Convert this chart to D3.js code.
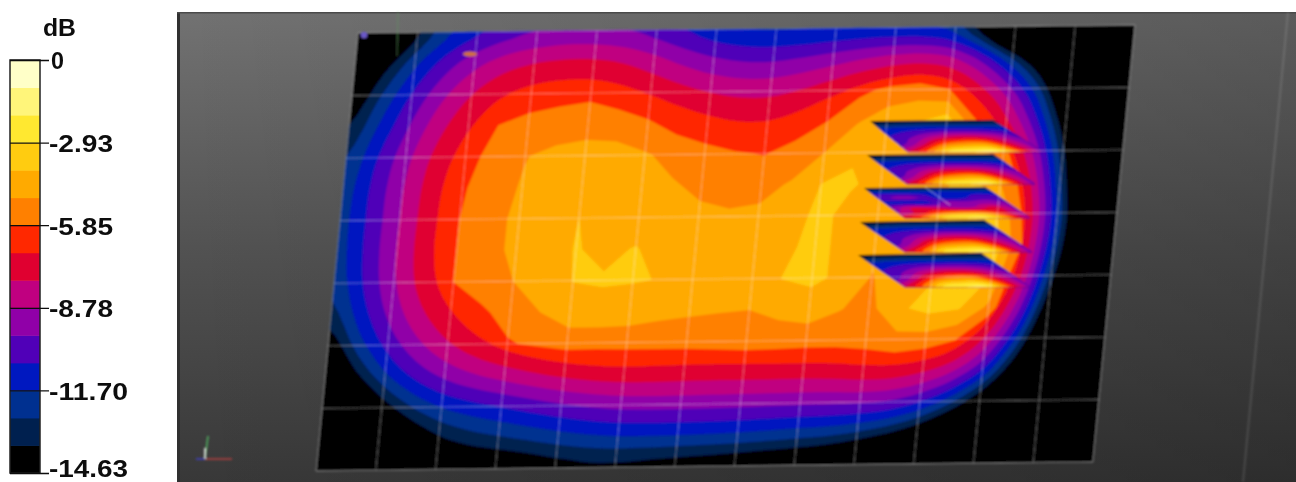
<!DOCTYPE html>
<html><head><meta charset="utf-8">
<script src="https://cdn.jsdelivr.net/npm/d3@7"></script>
<style>html,body{margin:0;padding:0;background:#fff;overflow:hidden}svg{display:block}</style>
</head><body><svg id="chart" width="1296" height="482"></svg>
<script>
// Legend
const legendTitle = "dB";
const legendTicks = [0, -2.93, -5.85, -8.78, -11.70, -14.63];
const legendLabels = ["0", "-2.93", "-5.85", "-8.78", "-11.70", "-14.63"];
const bandColors = ["#000000","#00204f","#003090","#0018c0","#5000b8","#9000a8","#c00080","#e00030",
                    "#ff2800","#ff8000","#ffaa00","#ffcc10","#ffe830","#fff57a","#ffffc8"];
const dbMin = -14.63, dbMax = 0;
// Field, in legend bands above -14.63 dB (one band = 14.63/15 dB),
// sampled every half mesh cell: 27 columns x 15 rows.
const field = [
[-6,-2.5,1.3,2.9,3.9,4.6,5.1,5.3,5.3,5.1,4.7,4,3.3,3,2.9,3,3.1,3.2,3.3,3.2,2.9,0.9,-5,-9,-9,-9,-9],
[-1.5,0.9,3.2,4.4,5.9,6.7,7.2,7.35,7.4,7.2,6.4,5.6,5,4.7,4.7,5.1,5.5,6,6.6,6.9,6.8,5.6,3.5,0.6,-4,-9,-9],
[-0.3,2.3,4.1,6.1,7.1,8.2,8.5,8.7,8.8,8.4,8.05,7.6,7.2,7,6.9,7.3,7.9,8.7,9.3,9.5,9,7.3,5.3,2.6,-3,-9,-9],
[1.2,3,4.9,6.8,7.8,9,9.3,9.4,9.5,9.5,9.15,8.6,8.2,8,7.9,8.4,9,9.9,10.6,10.9,11.5,9,7.6,4.7,0.6,-4,-9],
[2.2,4.2,5.8,7.6,8.6,9.4,9.95,10.3,10.5,10.4,10.1,9.7,9.4,9.1,8.95,9.4,10,10.9,10.8,10.9,10.9,10.5,9.5,6.3,0.8,-4,-9],
[2.5,4.2,5.9,7.8,8.9,9.5,10.1,10.4,10.6,10.6,10.4,10.1,9.8,9.7,9.7,10.1,11.01,11.1,10.7,10.7,10.8,11.5,10,8.2,2.7,-4.5,-9],
[2.7,4.2,6,7.8,9,9.7,10.2,10.4,11,10.6,10.5,10.4,10.2,10.1,10.2,10.4,11.3,10.7,10.6,10.7,10.8,11.5,11,8.5,3.2,-2.3,-9],
[2.5,4.2,6.1,7.8,9,9.7,10.2,10.6,11.05,10.8,11.05,10.6,10.4,10.4,10.5,10.8,11.3,10.7,10.2,10.3,10.7,11.3,11.5,8.8,3,-3,-9],
[2.5,4.1,6.1,7.7,9,9.5,10,10.5,11.02,11.08,11.05,10.97,10.5,10.6,10.6,11.02,11.2,10.8,9.95,10.5,10.9,11.5,11,7.5,1.6,-5,-9],
[1.8,3.5,5.5,6.9,8,8.8,9.4,10,10.6,10.7,10.6,10.3,10.15,10.05,10,10.25,10.5,10.05,9.7,10.85,11.3,11.1,9.8,6.6,0.4,-6,-9],
[0.3,3,4.4,6.1,7,7.9,8.9,9.2,9.4,9.3,9.3,9.35,9.4,9.5,9.6,9.5,9.4,9.4,9.45,9.7,9.6,9.1,7,3.6,-3,-8,-9],
[-2,1.1,3,4.4,5.6,6.2,6.5,7,7.5,7.8,7.9,7.75,7.6,7.5,7.5,7.6,7.6,7.6,7.9,8,7.6,6.9,5.2,1,-5,-9,-9],
[-6,-2,1.1,2.2,3,3.4,3.8,4.3,4.7,5,5.3,5.35,5.4,5.4,5.3,5.3,5.2,5.2,5.3,5,4.4,2.4,0.9,-5,-9,-9,-9],
[-9,-7,-3,-0.5,1.1,1.6,2,2.3,2.6,2.8,3,3,3,3,2.9,2.8,2.5,2.5,2.2,1.5,1,-2,-6,-9,-9,-9,-9],
[-9,-9,-6,-3,-1,-0.5,-0.3,0,0.5,0.8,0.8,0.6,0.4,0.2,0,-0.3,-0.6,-1,-2,-4,-6,-9,-9,-9,-9,-9,-9]
];
// Sound-field slices floating above the plane
const sliceField = [
[0.4,0.6,0.8,0.8,0.8,0.8,1],
[3,3.3,3.5,3.6,3.6,3.5,3.2],
[4,4.8,6,6.8,6.8,6,4.6],
[4.5,6.5,9,10,10,7.5,5.5],
[7,9.5,12.5,13,13,9,5.5]
];
const sliceFieldDouble = [
[0.4,0.6,0.8,0.8,0.8,0.8,1],
[3.2,3.4,3.4,3.4,3.4,3.4,3.2],
[4.6,5.2,5,3.6,3.6,4.6,4.4],
[3.6,3.6,3.6,5.4,5.4,5.6,5],
[5.2,7,7,6.2,6.2,7.4,5.6],
[6,7.4,9,10,10,8,5.8],
[7.6,9.6,12.5,13,13,10,6]
];
const meshCols = 13, meshRows = 7;
const smoothBelow = 8.5;   // outer bands are rounded in the picture, inner ones are polygonal

const svg = d3.select("#chart");
const defs = svg.append("defs");
const bgV = defs.append("linearGradient").attr("id","bgV").attr("x1",0).attr("x2",0).attr("y1",0).attr("y2",1);
[[0,"#727272"],[0.5,"#525252"],[1,"#383838"]].forEach(s=>bgV.append("stop").attr("offset",s[0]).attr("stop-color",s[1]));
const bgH = defs.append("linearGradient").attr("id","bgH");
[[0,0],[1,0.2]].forEach(s=>bgH.append("stop").attr("offset",s[0]).attr("stop-color","#000").attr("stop-opacity",s[1]));
defs.append("filter").attr("id","soft").attr("filterUnits","userSpaceOnUse")
  .attr("x",0).attr("y",0).attr("width",1296).attr("height",482)
  .append("feGaussianBlur").attr("stdDeviation",0.8);
defs.append("filter").attr("id","softText").attr("filterUnits","userSpaceOnUse")
  .attr("x",0).attr("y",0).attr("width",180).attr("height",482)
  .append("feGaussianBlur").attr("stdDeviation",0.4);

// ---------- panel ----------
svg.append("rect").attr("x",177).attr("y",12).attr("width",1119).attr("height",470).attr("fill","url(#bgV)");
svg.append("rect").attr("x",177).attr("y",12).attr("width",1119).attr("height",470).attr("fill","url(#bgH)");
svg.append("rect").attr("x",177).attr("y",12).attr("width",3).attr("height",470).attr("fill","#303030");
svg.append("rect").attr("x",177).attr("y",12).attr("width",1119).attr("height",1.5).attr("fill","#4a4a4a");

const scene = svg.append("g").attr("filter","url(#soft)");

// ---------- projection of a unit square on to a quadrilateral ----------
function quad(c){
  const lerp = d3.interpolateNumber;
  return (s,t)=>{
    const xa = lerp(c[0][0],c[1][0])(s), xb = lerp(c[3][0],c[2][0])(s);
    const ya = lerp(c[0][1],c[1][1])(s), yb = lerp(c[3][1],c[2][1])(s);
    return [lerp(xa,xb)(t), lerp(ya,yb)(t)];
  };
}
const planeCorners = [[358,33],[1135,25],[1093,462],[316,471]];
const plane = quad(planeCorners);
const line = d3.line();

// ---------- display resampling so outer contours render round ----------
function cr(a,b,c,d,t){return 0.5*((2*b)+(c-a)*t+(2*a-5*b+4*c-d)*t*t+(3*b-a-3*c+d)*t*t*t);}
function refine1(arr,f){
  const out=[],n=arr.length;
  for(let i=0;i<n-1;i++){
    for(let k=0;k<f;k++) out.push(cr(arr[Math.max(i-1,0)],arr[i],arr[i+1],arr[Math.min(i+2,n-1)],k/f));
  }
  out.push(arr[n-1]); return out;
}
function soften1(arr){
  const n=arr.length;
  return arr.map((v,i)=>(i===0||i===n-1)?v:(arr[i-1]+2*v+arr[i+1])/4);
}
function refine(rows,f,soften){
  let h=rows.map(r=>refine1(soften?soften1(r):r,f));
  const cols=d3.transpose(h).map(c=>refine1(soften?soften1(c):c,f));
  return d3.transpose(cols);
}

// ---------- filled contour drawing ----------
function drawField(parent, rows, project, limit, soften){
  const thresholds = d3.range(1,bandColors.length);
  const draw = (grid,levels)=>{
    const ny=grid.length,nx=grid[0].length;
    const sx = d3.scaleLinear().domain([0.5,nx-0.5]).range([0,1]).clamp(true);
    const sy = d3.scaleLinear().domain([0.5,ny-0.5]).range([0,1]).clamp(true);
    const path = d3.geoPath(d3.geoTransform({point(x,y){
      const p = project(sx(x),sy(y)); this.stream.point(p[0],p[1]);
    }}));
    const contours = d3.contours().size([nx,ny]).smooth(true).thresholds(levels)(grid.flat());
    parent.append("g").selectAll("path").data(contours).join("path")
      .attr("d",path).attr("fill",d=>bandColors[d.value]).attr("stroke",d=>bandColors[d.value]).attr("stroke-width",0.3);
  };
  const low = thresholds.filter(t=>t<limit), high = thresholds.filter(t=>t>=limit);
  if(low.length) draw(refine(rows,4,soften),low);
  if(high.length) draw(rows,high);
}

// plane
scene.append("path").attr("d",line(planeCorners)+"Z").attr("fill",bandColors[0]);
drawField(scene.append("g"), field, plane, smoothBelow, true);

// slices
const sliceCorners = [
 [[870,121],[993,120],[1043,152],[908,152]],
 [[867,155],[993,154],[1035,184],[907,184]],
 [[864,188],[985,187],[1030,218],[905,218]],
 [[860,222],[984,220],[1032,252],[905,252]],
 [[858,255],[981,253],[1030,287],[905,287]]
];
sliceCorners.forEach((c,i)=>{
  scene.append("path").attr("d",line([c[0],c[1],[c[1][0]+12,c[1][1]+8],[c[0][0]+12,c[0][1]+8]])+"Z").attr("fill",bandColors[0]);
  drawField(scene.append("g"), i===2?sliceFieldDouble:sliceField, quad(c), 99, false);
});

// mesh lines
const gridG = scene.append("g").attr("fill","none").attr("stroke","#fff").attr("stroke-opacity",0.34).attr("stroke-width",1);
d3.range(0,meshCols+1).forEach(k=>{
  const s=k/meshCols; gridG.append("path").attr("d",line([plane(s,0),plane(s,1)]));
});
d3.range(0,meshRows+1).forEach(k=>{
  const t=k/meshRows; gridG.append("path").attr("d",line([plane(0,t),plane(1,t)]));
});
scene.append("path").attr("d",line([[925,187],[950,205]])).attr("stroke","#fff").attr("stroke-opacity",0.5).attr("fill","none");

// small markers
scene.append("circle").attr("cx",364).attr("cy",35).attr("r",3.2).attr("fill","#6a58c8");
scene.append("ellipse").attr("cx",470).attr("cy",54).attr("rx",7).attr("ry",2.5).attr("fill","#d07040");
scene.append("path").attr("d",line([[398,12],[397,56]])).attr("stroke","#5f9a5f").attr("stroke-opacity",0.6).attr("fill","none");
scene.append("path").attr("d",line([[1288,12],[1243,482]])).attr("stroke","#fff").attr("stroke-opacity",0.12).attr("stroke-width",2).attr("fill","none");
// orientation triad
const triad = scene.append("g").attr("fill","none").attr("stroke-width",1.6);
triad.append("path").attr("d",line([[205,459],[232,459]])).attr("stroke","#b04040");
triad.append("path").attr("d",line([[205,459],[208,436]])).attr("stroke","#50b060");
triad.append("path").attr("d",line([[205,459],[205,448]])).attr("stroke","#f0f0f0");
triad.append("path").attr("d",line([[196,459],[205,459]])).attr("stroke","#4040c0");

// ---------- legend ----------
const legendY = d3.scaleLinear().domain([dbMax,dbMin]).range([60,473]);
const bandStep = (dbMax-dbMin)/bandColors.length;
const legend = svg.append("g");
legend.selectAll("rect.band").data(bandColors).join("rect").attr("class","band")
  .attr("x",10).attr("width",30)
  .attr("y",(d,i)=>legendY(dbMin+(i+1)*bandStep))
  .attr("height",(d,i)=>legendY(dbMin+i*bandStep)-legendY(dbMin+(i+1)*bandStep)+0.5)
  .attr("fill",d=>d);
legend.append("rect").attr("x",10).attr("y",60).attr("width",30).attr("height",413)
  .attr("fill","none").attr("stroke","#222").attr("stroke-width",1.5);
const axis = d3.axisRight(legendY).tickValues(legendTicks).tickSize(39).tickPadding(0)
  .tickFormat((d,i)=>legendLabels[i]);
const ag = legend.append("g").attr("transform","translate(10,0)").attr("filter","url(#softText)").call(axis);
ag.attr("fill",null).attr("font-size",null).attr("font-family",null);
ag.select(".domain").remove();
ag.selectAll(".tick line").attr("stroke","#111").attr("stroke-width",1.3);
ag.selectAll(".tick text")
  .attr("font-family","'Liberation Sans',Arial,sans-serif").attr("font-weight","bold").attr("font-size",24)
  .attr("fill","#111")
  .attr("dy",(d,i)=>[8,9,9,9,9,3.5][i])
  .attr("lengthAdjust","spacingAndGlyphs")
  .attr("textLength",(d,i)=>[13,64,64,64,79,79][i])
  .attr("x",(d,i)=>i===0?41:39);
legend.append("text").text(legendTitle).attr("x",43).attr("y",36)
  .attr("font-family","'Liberation Sans',Arial,sans-serif").attr("font-weight","bold").attr("font-size",24)
  .attr("fill","#111").attr("filter","url(#softText)")
  .attr("lengthAdjust","spacingAndGlyphs").attr("textLength",33);
</script></body></html>
